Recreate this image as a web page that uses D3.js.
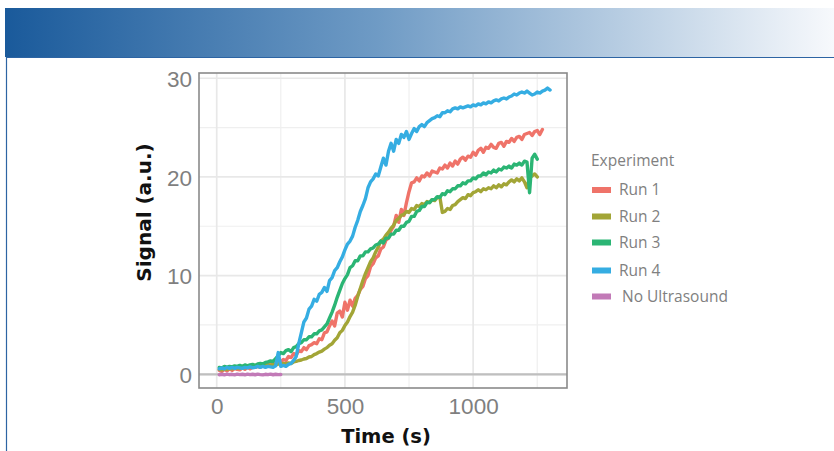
<!DOCTYPE html>
<html><head><meta charset="utf-8">
<script src="https://cdn.jsdelivr.net/npm/d3@7"></script>
<style>html,body{margin:0;padding:0;background:#fff;}svg{display:block;}</style>
</head><body>
<svg id="chart" width="834" height="451"></svg>
<script>
// ---- data (signal in a.u., sampled every 10 s starting at t = 10 s) ----
const seriesNames = ["Run 1", "Run 2", "Run 3", "Run 4", "No Ultrasound"];
const seriesColors = ["#ef7369", "#a2a536", "#2bb574", "#35ade2", "#c27ab7"];
const tStart = 10, tStep = 10;

const run1 = [
  0.4,0.3,0.5,0.35,0.55,0.4,0.6,0.5,0.45,0.65,
  0.5,0.7,0.55,0.75,0.7,0.8,0.7,0.95,0.85,1.1,
  1.0,1.2,1.05,1.35,1.25,1.5,1.4,1.8,1.7,2.1,
  1.95,2.4,2.3,2.7,2.5,2.9,3.0,3.2,3.1,3.6,
  3.5,4.2,4.3,4.9,5.4,4.9,6.2,6.4,5.8,7.3,
  6.5,7.5,6.9,7.7,8.0,8.6,8.9,9.7,10.0,10.9,
  11.2,11.8,12.0,12.7,12.9,13.6,13.8,14.6,15.0,16.1,
  15.4,16.7,16.1,17.4,18.5,19.4,19.5,19.9,19.6,20.1,
  20.0,20.4,20.1,20.6,20.5,20.4,20.9,20.8,21.2,20.9,
  21.4,21.1,21.6,21.3,21.8,22.0,21.7,22.1,22.0,22.5,
  22.2,22.7,22.9,22.5,23.0,22.9,23.3,23.0,22.9,23.4,
  23.5,23.1,23.6,23.5,23.9,23.6,24.0,24.1,23.8,24.3,
  24.4,24.5,24.2,24.6,24.7,24.3,24.8
];
const run2 = [
  0.5,0.45,0.55,0.5,0.6,0.55,0.6,0.65,0.6,0.7,
  0.65,0.75,0.7,0.8,0.75,0.85,0.8,0.9,0.85,0.95,
  0.9,1.0,0.95,1.05,1.0,1.1,1.05,1.15,1.1,1.25,
  1.3,1.4,1.45,1.55,1.6,1.75,1.8,2.0,2.1,2.25,
  2.35,2.55,2.7,2.95,3.1,3.45,3.7,4.2,4.45,4.95,
  5.3,5.85,6.3,7.0,7.9,8.7,9.5,10.2,10.8,11.4,
  11.8,12.4,12.9,13.5,13.7,14.1,14.4,14.8,15.1,15.6,
  15.8,16.1,16.2,16.5,16.4,16.8,16.7,17.1,17.0,17.3,
  17.2,17.5,17.4,17.7,17.6,17.9,18.0,16.4,16.5,16.8,
  16.7,17.1,17.2,17.5,17.7,17.9,17.8,18.2,18.1,18.4,
  18.5,18.7,18.5,18.8,18.7,18.9,18.8,19.1,18.9,19.2,
  19.0,19.3,19.2,19.5,19.7,19.5,19.8,19.6,19.9,19.5,
  18.9,19.9,20.1,20.3,20.0
];
const run3 = [
  0.7,0.65,0.8,0.7,0.8,0.75,0.85,0.8,0.9,0.8,
  0.95,0.85,0.95,1.0,0.9,1.05,1.1,1.05,1.2,1.25,
  1.35,1.3,1.6,1.9,2.2,2.1,2.4,2.5,2.3,2.7,
  2.8,3.1,3.2,3.5,3.5,3.8,3.8,4.1,4.1,4.4,
  4.5,4.8,5.1,5.7,6.3,7.0,7.8,8.5,9.2,9.7,
  10.1,10.8,11.0,11.5,11.5,12.0,12.0,12.4,12.4,12.7,
  12.8,13.1,13.2,13.5,13.3,13.8,13.8,14.2,14.2,14.6,
  14.6,15.0,15.0,15.4,15.5,16.0,16.0,16.5,16.6,17.0,
  17.0,17.4,17.4,17.7,17.7,18.0,17.9,18.3,18.2,18.6,
  18.5,18.8,18.8,19.1,19.1,19.4,19.3,19.6,19.6,19.9,
  19.8,20.1,20.1,20.4,20.2,20.5,20.4,20.7,20.5,20.8,
  20.7,21.0,20.9,21.1,20.9,21.3,21.2,21.4,21.2,21.6,
  21.5,18.4,21.9,22.3,21.8
];
const run4 = [
  0.55,0.65,0.55,0.7,0.6,0.7,0.6,0.7,0.65,0.6,
  0.7,0.65,0.75,0.65,0.7,0.8,0.7,0.8,0.7,0.8,
  0.75,0.7,0.85,2.2,0.8,0.9,0.8,1.0,1.1,1.4,
  1.8,3.1,4.2,5.3,5.7,6.6,6.9,7.6,7.4,8.1,
  8.3,8.8,8.4,9.5,9.8,10.5,10.8,11.4,11.9,12.6,
  13.2,13.5,14.0,14.9,15.6,16.5,17.1,17.8,18.9,19.5,
  19.8,20.3,20.1,21.0,21.9,21.2,22.6,23.4,22.6,23.8,
  23.4,24.3,24.0,24.6,23.8,24.4,24.9,24.6,25.1,25.3,
  25.1,25.5,25.7,25.9,26.0,26.2,26.1,26.5,26.5,26.7,
  26.6,26.9,27.0,26.9,27.1,27.0,27.1,27.2,27.1,27.3,
  27.2,27.4,27.3,27.5,27.4,27.6,27.5,27.7,27.8,27.7,
  27.9,28.0,27.9,28.1,28.2,28.4,28.3,28.5,28.6,28.5,
  28.7,28.5,28.3,28.4,28.6,28.5,28.7,28.8,29.0,28.8
];
const noUltrasound = [
  -0.05,0.0,-0.05,0.02,-0.04,0.0,-0.06,0.01,-0.03,0.0,
  -0.05,0.02,-0.04,0.0,-0.05,0.01,-0.03,-0.06,0.0,-0.04,
  0.01,-0.05,0.0,-0.03,-0.02
];
const xTicks = [0, 500, 1000];
const xMinor = [250, 750, 1250];
const yTicks = [0, 10, 20, 30];
const yMinor = [5, 15, 25];

const allSeries = [run1, run2, run3, run4, noUltrasound];

// ---- layout ----
const svg = d3.select("#chart");
const P = {left: 199, right: 567, top: 73, bottom: 388};

// header
const defs = svg.append("defs");
const grad = defs.append("linearGradient").attr("id", "hdr").attr("x1", 0).attr("x2", 1).attr("y1", 0).attr("y2", 0);
grad.append("stop").attr("offset", "0%").attr("stop-color", "#1a5a9b");
grad.append("stop").attr("offset", "45%").attr("stop-color", "#6f9bc5");
grad.append("stop").attr("offset", "100%").attr("stop-color", "#f7f9fc");
svg.append("rect").attr("x", 5).attr("y", 8).attr("width", 829).attr("height", 49).attr("fill", "url(#hdr)");
svg.append("path").attr("d", "M834,57.5H6.5V451").attr("fill", "none").attr("stroke", "#2d64a3").attr("stroke-width", 1.2);

const x = d3.scaleLinear().domain([-69, 1366]).range([P.left, P.right]);
const y = d3.scaleLinear().domain([-1.39, 30.53]).range([P.bottom, P.top]);

const g = svg.append("g");
// grid
g.selectAll(".xminor").data(xMinor).join("line")
  .attr("x1", d => x(d)).attr("x2", d => x(d)).attr("y1", P.top).attr("y2", P.bottom)
  .attr("stroke", "#efefef").attr("stroke-width", 1.2);
g.selectAll(".yminor").data(yMinor).join("line")
  .attr("y1", d => y(d)).attr("y2", d => y(d)).attr("x1", P.left).attr("x2", P.right)
  .attr("stroke", "#efefef").attr("stroke-width", 1.2);
g.selectAll(".xmajor").data(xTicks).join("line")
  .attr("x1", d => x(d)).attr("x2", d => x(d)).attr("y1", P.top).attr("y2", P.bottom)
  .attr("stroke", "#e8e8e8").attr("stroke-width", 1.7);
g.selectAll(".ymajor").data(yTicks).join("line")
  .attr("y1", d => y(d)).attr("y2", d => y(d)).attr("x1", P.left).attr("x2", P.right)
  .attr("stroke", "#e8e8e8").attr("stroke-width", 1.7);
// zero line
g.append("line").attr("x1", P.left).attr("x2", P.right).attr("y1", y(0)).attr("y2", y(0))
  .attr("stroke", "#bfbfbf").attr("stroke-width", 2.2);

// series
const line = d3.line().x((d, i) => x(tStart + tStep * i)).y(d => y(d));
const clip = defs.append("clipPath").attr("id", "clip");
clip.append("rect").attr("x", P.left).attr("y", P.top).attr("width", P.right - P.left).attr("height", P.bottom - P.top);
const lg = svg.append("g").attr("clip-path", "url(#clip)");
allSeries.forEach((s, k) => {
  lg.append("path").datum(s).attr("d", line).attr("fill", "none")
    .attr("stroke", seriesColors[k]).attr("stroke-width", 3.4)
    .attr("stroke-linejoin", "round").attr("stroke-linecap", "round");
});

// border
svg.append("rect").attr("x", P.left).attr("y", P.top).attr("width", P.right - P.left).attr("height", P.bottom - P.top)
  .attr("fill", "none").attr("stroke", "#8a8a8a").attr("stroke-width", 1.6);

// axes
const xAxis = d3.axisBottom(x).tickValues(xTicks).tickFormat(d3.format("d")).tickSize(0).tickPadding(0);
const xa = svg.append("g").attr("transform", `translate(0,${P.bottom})`).call(xAxis);
xa.select(".domain").remove();
xa.selectAll("text").attr("y", 26).attr("dy", 0)
  .attr("font-family", "'Liberation Sans', Arial, sans-serif").attr("font-size", 22.5).attr("fill", "#7f7f7f");

const yAxis = d3.axisLeft(y).tickValues(yTicks).tickFormat(d3.format("d")).tickSize(0).tickPadding(0);
const ya = svg.append("g").attr("transform", `translate(${P.left},0)`).call(yAxis);
ya.select(".domain").remove();
ya.selectAll("text").attr("x", -7).attr("dy", "0.36em")
  .attr("font-family", "'Liberation Sans', Arial, sans-serif").attr("font-size", 22.5).attr("fill", "#7f7f7f");

// titles
svg.append("text").attr("x", 386).attr("y", 443).attr("text-anchor", "middle")
  .attr("font-family", "'DejaVu Sans', sans-serif").attr("font-weight", "bold").attr("font-size", 19.5)
  .attr("fill", "#111").text("Time (s)");
svg.append("text").attr("transform", "translate(151,212.5) rotate(-90)").attr("text-anchor", "middle")
  .attr("font-family", "'DejaVu Sans', sans-serif").attr("font-weight", "bold").attr("font-size", 20)
  .attr("fill", "#111").text("Signal (a.u.)");

// legend
const legFont = "'Open Sans', sans-serif";
svg.append("text").attr("x", 591).attr("y", 166).attr("font-family", legFont).attr("font-size", 15.5)
  .attr("fill", "#808080").text("Experiment");
const legBase = [195, 221.5, 247.5, 275.5, 301.5];
const legTextX = [619, 619, 619, 619, 622];
seriesNames.forEach((name, k) => {
  svg.append("rect").attr("x", 592).attr("y", legBase[k] - 8).attr("width", 19).attr("height", 6)
    .attr("fill", seriesColors[k]);
  svg.append("text").attr("x", legTextX[k]).attr("y", legBase[k]).attr("font-family", legFont)
    .attr("font-size", 15.5).attr("fill", "#808080").text(name);
});
</script>
</body></html>
